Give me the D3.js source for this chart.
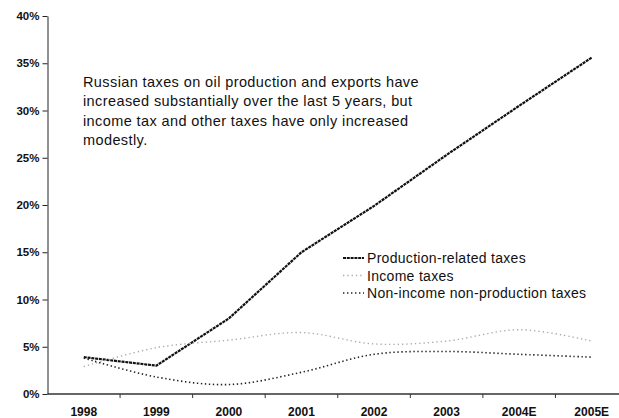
<!DOCTYPE html>
<html><head><meta charset="utf-8">
<script src="https://cdn.jsdelivr.net/npm/d3@7/dist/d3.min.js"></script>
<style>
body{margin:0;background:#fff;}
svg{display:block;font-family:"Liberation Sans",Arial,sans-serif;}
</style></head>
<body><svg id="c" width="619" height="418"></svg>
<script>
const categories = ["1998","1999","2000","2001","2002","2003","2004E","2005E"];
const production = [3.9, 3.0, 8.0, 15.0, 19.9, 25.3, 30.5, 35.6];
const income = [2.9, 4.9, 5.7, 6.5, 5.3, 5.6, 6.8, 5.6];
const nonIncome = [3.8, 1.8, 1.0, 2.3, 4.2, 4.5, 4.2, 3.9];
const yTicks = [0,5,10,15,20,25,30,35,40];
const seriesNames = ["Production-related taxes","Income taxes","Non-income non-production taxes"];
const noteLines = ["Russian taxes on oil production and exports have",
  "increased substantially over the last 5 years, but",
  "income tax and other taxes have only increased",
  "modestly."];

const svg = d3.select("#c");
const x = d3.scaleBand().domain(categories).range([47.5, 628]).padding(0);
const y = d3.scaleLinear().domain([0,40]).range([394,16]);
const cx = d => x(d) + x.bandwidth()/2;

// y axis
const ya = svg.append("g").attr("transform","translate(47.5,0)")
  .call(d3.axisLeft(y).tickValues(yTicks).tickFormat(d=>d+"%").tickSize(5).tickSizeOuter(0));
ya.select(".domain").attr("stroke","#222");
ya.selectAll(".tick line").attr("stroke","#222");
ya.selectAll("text").attr("font-size","11.5px").attr("font-weight","bold").attr("fill","#111")
  .attr("font-family","Liberation Sans, Arial, sans-serif").attr("x",-8);

// x axis
const xg = svg.append("g");
xg.append("line").attr("x1",x.range()[0]).attr("x2",x.range()[1])
  .attr("y1",y(0)).attr("y2",y(0)).attr("stroke","#333").attr("stroke-width",1.3);
xg.selectAll("line.tk").data(categories.slice(1)).join("line").attr("class","tk")
  .attr("x1",d=>x(d)).attr("x2",d=>x(d)).attr("y1",y(0)).attr("y2",y(0)+4)
  .attr("stroke","#333");
xg.selectAll("text").data(categories).join("text")
  .attr("x",cx).attr("y",y(0)+22).attr("text-anchor","middle")
  .attr("font-size","12px").attr("font-weight","bold").attr("fill","#111").text(d=>d);

const styles = [
  {data:production, stroke:"#111", w:2.2, dash:"3,0.8", curve:d3.curveLinear},
  {data:income, stroke:"#aaa", w:1.4, dash:"1.3,3", curve:d3.curveCatmullRom},
  {data:nonIncome, stroke:"#222", w:1.6, dash:"1.4,2.6", curve:d3.curveCatmullRom}
];
styles.forEach(s=>{
  const line = d3.line().x((d,i)=>cx(categories[i])).y(d=>y(d)).curve(s.curve);
  svg.append("path").datum(s.data).attr("d",line).attr("fill","none")
    .attr("stroke",s.stroke).attr("stroke-width",s.w).attr("stroke-dasharray",s.dash);
});

// legend
const legY = [258, 275.5, 293];
seriesNames.forEach((n,i)=>{
  svg.append("line").attr("x1",343).attr("x2",364).attr("y1",legY[i]).attr("y2",legY[i])
    .attr("stroke",styles[i].stroke).attr("stroke-width",styles[i].w).attr("stroke-dasharray",styles[i].dash);
  svg.append("text").attr("x",367).attr("y",legY[i]+5).attr("font-size","14px")
    .attr("letter-spacing","0.3px").attr("fill","#111").text(n);
});

// note
noteLines.forEach((t,i)=>{
  svg.append("text").attr("x",83).attr("y",86.5+i*19.5).attr("font-size","14.5px")
    .attr("letter-spacing","0.4px").attr("fill","#111").text(t);
});
</script></body></html>
